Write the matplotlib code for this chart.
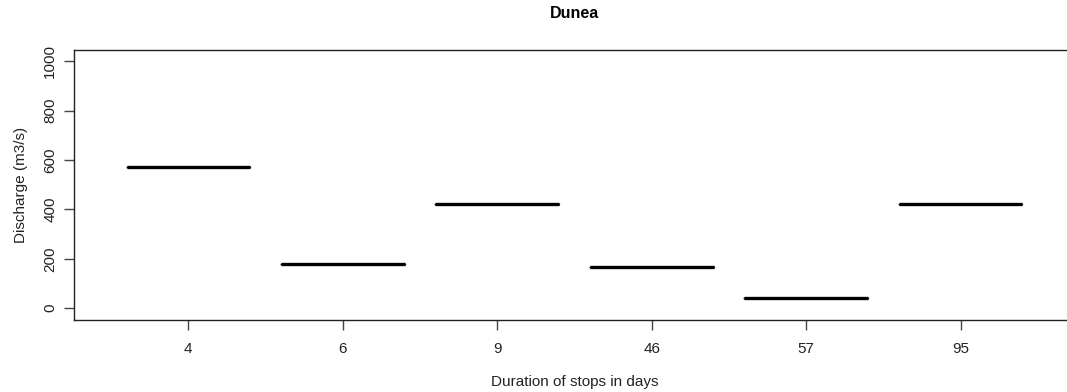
import matplotlib
matplotlib.use('Agg')
import matplotlib.pyplot as plt

# stop durations (days) and discharge during each stop
durations = ['4', '6', '9', '46', '57', '95']
discharge = [573, 178, 421, 166, 43, 421]

plt.rcParams['font.family'] = ['Liberation Sans', 'DejaVu Sans']

fig = plt.figure(figsize=(10.67, 3.92), dpi=100)
ax = fig.add_axes([74 / 1067, 1 - 319.5 / 392, (1075 - 74) / 1067, (319.5 - 50) / 392])

positions = list(range(1, len(durations) + 1))
ax.boxplot([[v] for v in discharge], positions=positions, widths=0.8,
           showfliers=False,
           boxprops=dict(color='black', linewidth=1),
           whiskerprops=dict(color='black', linewidth=1),
           capprops=dict(color='black', linewidth=1),
           medianprops=dict(color='black', linewidth=2.4, solid_capstyle='butt'))

ax.set_xlim(0.26, 6.74)
ax.set_ylim(-46, 1046)
ax.set_xticks(positions)
ax.set_xticklabels(durations)
ax.set_yticks([0, 200, 400, 600, 800, 1000])
ax.set_yticklabels(['0', '200', '400', '600', '800', '1000'], rotation=90, va='center')

for s in ax.spines.values():
    s.set_color('#222222')
    s.set_linewidth(1)
ax.tick_params(axis='both', length=7, width=1, color='#444444',
               labelsize=11, labelcolor='#222222')
ax.tick_params(axis='x', pad=9)
ax.tick_params(axis='y', pad=5)

ax.set_xlabel('Duration of stops in days', fontsize=11, color='#222222', labelpad=14)
ax.set_ylabel('Discharge (m3/s)', fontsize=11, color='#222222', labelpad=11)
fig.text(574.5 / 1067, 1 - 14 / 392, 'Dunea', ha='center', va='center',
         fontsize=11.5, fontweight='bold')

fig.savefig('out.png', dpi=100)
